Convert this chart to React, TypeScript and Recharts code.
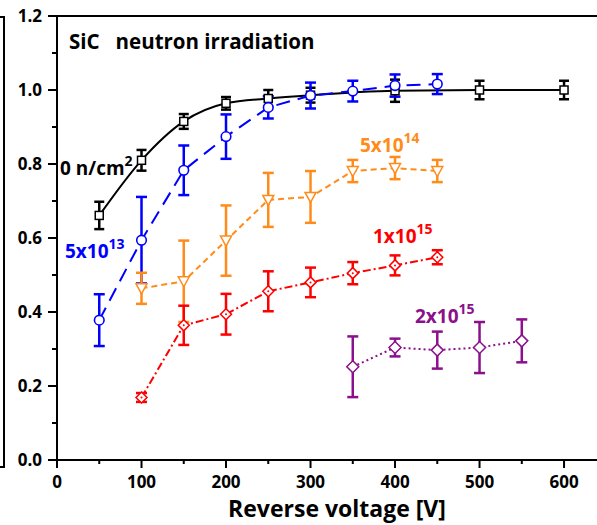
import React from 'react';
import { LineChart, Line, XAxis, YAxis, ErrorBar, ReferenceLine } from 'recharts';

// Reverse voltage [V] / collection efficiency / error per fluence
const volts0 = [50, 100, 150, 200, 250, 300, 400, 500, 600];
const eff0 = [0.661, 0.81, 0.915, 0.964, 0.977, 0.986, 0.998, 1.0, 1.0];
const err0 = [0.037, 0.028, 0.02, 0.017, 0.023, 0.02, 0.03, 0.025, 0.025];

const volts1 = [50, 100, 150, 200, 250, 300, 350, 400, 450];
const eff1 = [0.378, 0.594, 0.783, 0.874, 0.953, 0.985, 0.997, 1.012, 1.016];
const err1 = [0.07, 0.117, 0.067, 0.06, 0.03, 0.035, 0.028, 0.03, 0.027];

const volts2 = [100, 150, 200, 250, 300, 350, 400, 450];
const eff2 = [0.464, 0.483, 0.593, 0.703, 0.711, 0.781, 0.789, 0.781];
const err2 = [0.042, 0.11, 0.095, 0.073, 0.07, 0.03, 0.03, 0.03];

const volts3 = [100, 150, 200, 250, 300, 350, 400, 450];
const eff3 = [0.169, 0.364, 0.394, 0.456, 0.48, 0.505, 0.526, 0.548];
const err3 = [0.012, 0.053, 0.055, 0.054, 0.04, 0.03, 0.027, 0.019];

const volts4 = [350, 400, 450, 500, 550];
const eff4 = [0.252, 0.304, 0.297, 0.304, 0.322];
const err4 = [0.082, 0.024, 0.05, 0.069, 0.058];

const xTicks = [0, 50, 100, 150, 200, 250, 300, 350, 400, 450, 500, 550, 600];
const yTicks = [0, 0.1, 0.2, 0.3, 0.4, 0.5, 0.6, 0.7, 0.8, 0.9, 1.0, 1.1, 1.2];

const FONT = '"Open Sans", sans-serif';

const build = (v: number[], e: number[], r: number[]) => v.map((x, i) => ({ v: x, y: e[i], e: r[i] }));

const data0 = build(volts0, eff0, err0);
const data1 = build(volts1, eff1, err1);
const data2 = build(volts2, eff2, err2);
const data3 = build(volts3, eff3, err3);
const data4 = build(volts4, eff4, err4);

const makeDot = (kind: string, color: string) => (props: any) => {
  const { cx, cy, index } = props;
  if (cx == null || cy == null) return <g key={index} />;
  if (kind === 'square') {
    return <rect key={index} x={cx - 4} y={cy - 4} width={8} height={8} fill="#fff" stroke={color} strokeWidth={1.5} />;
  }
  if (kind === 'circle') {
    return <circle key={index} cx={cx} cy={cy} r={4.8} fill="#fff" stroke={color} strokeWidth={1.6} />;
  }
  if (kind === 'tri') {
    return (
      <polygon key={index} points={`${cx - 5.5},${cy - 4.5} ${cx + 5.5},${cy - 4.5} ${cx},${cy + 5.5}`} fill="#fff" stroke={color} strokeWidth={1.5} />
    );
  }
  if (kind === 'diamondDot') {
    return (
      <g key={index}>
        <polygon points={`${cx},${cy - 5.5} ${cx + 5.5},${cy} ${cx},${cy + 5.5} ${cx - 5.5},${cy}`} fill="#fff" stroke={color} strokeWidth={1.5} />
        <circle cx={cx} cy={cy} r={1} fill={color} />
      </g>
    );
  }
  return (
    <polygon key={index} points={`${cx},${cy - 6} ${cx + 6},${cy} ${cx},${cy + 6} ${cx - 6},${cy}`} fill="#fff" stroke={color} strokeWidth={1.5} />
  );
};

const XTick = (props: any) => {
  const { x, y, payload } = props;
  const major = payload.value % 100 === 0;
  return (
    <g>
      <line x1={x} y1={y} x2={x} y2={y + (major ? 8 : 4)} stroke="#000" strokeWidth={2} />
      {major && (
        <text x={x} y={y + 28} textAnchor="middle" fontFamily={FONT} fontWeight="bold" fontSize={17} fill="#000">
          {payload.value}
        </text>
      )}
    </g>
  );
};

const YTick = (props: any) => {
  const { x, y, payload } = props;
  const k = Math.round(payload.value * 10);
  const major = k % 2 === 0;
  return (
    <g>
      <line x1={x} y1={y} x2={x - (major ? 9 : 5)} y2={y} stroke="#000" strokeWidth={2} />
      {major && (
        <text x={x - 15} y={y + 6} textAnchor="end" fontFamily={FONT} fontWeight="bold" fontSize={17} fill="#000">
          {(k / 10).toFixed(1)}
        </text>
      )}
    </g>
  );
};

const Ann = ({ x, y, base, sup, color }: any) => (
  <text x={x} y={y} fontFamily={FONT} fontWeight="bold" fontSize={19} fill={color}>
    <tspan>{base}</tspan>
    {sup && (
      <tspan dy={-9} fontSize={14}>
        {sup}
      </tspan>
    )}
  </text>
);

export default function App() {
  return (
    <div style={{ position: 'absolute', left: 0, top: 0, width: 597, height: 525, background: '#fff', overflow: 'hidden' }}>
      <div
        style={{
          position: 'absolute',
          left: 0,
          top: 16,
          width: 3,
          height: 448,
          borderTop: '2px solid #000',
          borderRight: '2px solid #000',
          borderBottom: '2px solid #000',
        }}
      />
      <LineChart width={597} height={525} margin={{ top: 16, right: 0, bottom: 0, left: 0 }}>
        <XAxis
          type="number"
          dataKey="v"
          domain={[0, 639]}
          ticks={xTicks}
          interval={0}
          tickSize={0}
          tickMargin={0}
          tick={<XTick />}
          height={65}
          axisLine={{ stroke: '#000', strokeWidth: 2 }}
          allowDataOverflow
          label={{
            value: 'Reverse voltage [V]',
            position: 'insideBottom',
            offset: 8,
            dx: 10,
            style: { fontFamily: FONT, fontWeight: 'bold', fontSize: 23, fill: '#000' },
          }}
        />
        <YAxis
          type="number"
          domain={[0, 1.2]}
          ticks={yTicks}
          interval={0}
          width={57}
          tickSize={0}
          tickMargin={0}
          tick={<YTick />}
          axisLine={{ stroke: '#000', strokeWidth: 2 }}
          allowDataOverflow
        />
        <ReferenceLine y={1.2} stroke="#000" strokeWidth={2} />
        <Line data={data0} dataKey="y" type="monotone" stroke="#000" strokeWidth={2} dot={makeDot('square', '#000')} isAnimationActive={false}>
          <ErrorBar dataKey="e" direction="y" width={5} stroke="#000" strokeWidth={2.5} />
        </Line>
        <Line data={data1} dataKey="y" type="linear" stroke="#0000ff" strokeWidth={2} strokeDasharray="14 8" dot={makeDot('circle', '#0000ff')} isAnimationActive={false}>
          <ErrorBar dataKey="e" direction="y" width={5.5} stroke="#0000ff" strokeWidth={2.5} />
        </Line>
        <Line data={data2} dataKey="y" type="linear" stroke="#ff8c1a" strokeWidth={2} strokeDasharray="6 4" dot={makeDot('tri', '#ff8c1a')} isAnimationActive={false}>
          <ErrorBar dataKey="e" direction="y" width={5.5} stroke="#ff8c1a" strokeWidth={2.5} />
        </Line>
        <Line data={data3} dataKey="y" type="linear" stroke="#ff0000" strokeWidth={2} strokeDasharray="8 3 2 3" dot={makeDot('diamondDot', '#ff0000')} isAnimationActive={false}>
          <ErrorBar dataKey="e" direction="y" width={5.5} stroke="#ff0000" strokeWidth={2.5} />
        </Line>
        <Line data={data4} dataKey="y" type="linear" stroke="#8b108b" strokeWidth={2} strokeDasharray="2 3" dot={makeDot('diamond', '#8b108b')} isAnimationActive={false}>
          <ErrorBar dataKey="e" direction="y" width={5.5} stroke="#8b108b" strokeWidth={2.5} />
        </Line>
      </LineChart>
      <svg width={597} height={525} style={{ position: 'absolute', left: 0, top: 0, pointerEvents: 'none' }}>
        <text x={69} y={49} fontFamily={FONT} fontWeight="bold" fontSize={20.5} fill="#000" xmlSpace="preserve">
          {'SiC   neutron irradiation'}
        </text>
        <Ann x={60} y={175} base="0 n/cm" sup="2" color="#000" />
        <Ann x={65} y={258} base="5x10" sup="13" color="#0000ff" />
        <Ann x={360} y={152} base="5x10" sup="14" color="#ff8c1a" />
        <Ann x={373} y={243} base="1x10" sup="15" color="#ff0000" />
        <Ann x={415} y={323} base="2x10" sup="15" color="#8b108b" />
      </svg>
    </div>
  );
}
